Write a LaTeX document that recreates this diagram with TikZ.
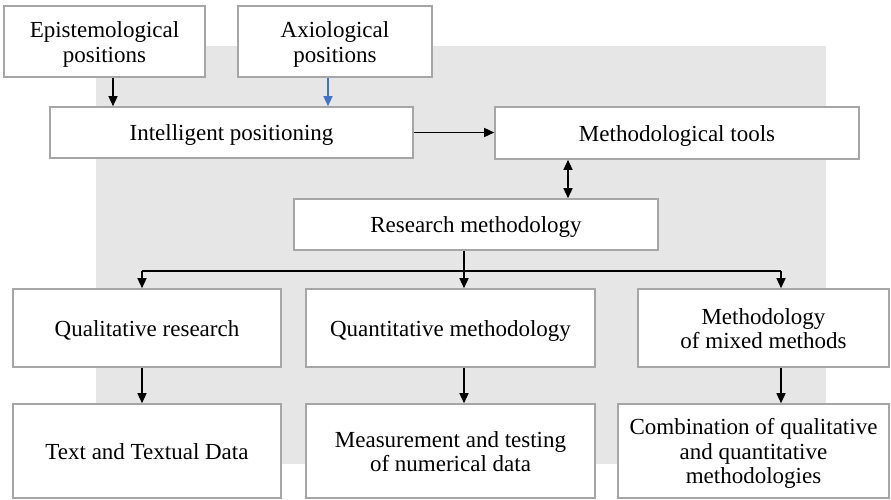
\documentclass[tikz,border=0pt]{standalone}
\usepackage{fontspec}
\setmainfont{Liberation Serif}
\usetikzlibrary{arrows.meta}
\definecolor{bgc}{HTML}{E6E6E6}
\definecolor{boxline}{HTML}{A6A6A6}
\definecolor{bluearr}{HTML}{4472C4}
\newcommand{\tx}[1]{\raisebox{-3.5pt}[\height][\depth]{\begin{tabular}{@{}c@{}}#1\end{tabular}}}
\tikzset{
  box/.style={draw=boxline, line width=1.6pt, fill=white, inner sep=2pt,
    font=\fontsize{23}{24.5}\selectfont},
  arr/.style={line width=1.4pt, -{Triangle[length=10pt,width=9pt]}},
  dblarr/.style={line width=1.4pt, {Triangle[length=10pt,width=9pt]}-{Triangle[length=10pt,width=9pt]}},
  ln/.style={line width=1.4pt}
}
\begin{document}
\begin{tikzpicture}[x=1pt,y=-1pt]
\useasboundingbox (0,0) rectangle (891,499);
\fill[bgc] (96,46) rectangle (826,464);
\node[box, minimum width=201pt, minimum height=71pt] (epi) at (104.5,41.5) {\tx{Epistemological\\positions}};
\node[box, minimum width=194pt, minimum height=71pt] (axio) at (335,41.5) {\tx{Axiological\\positions}};
\node[box, minimum width=363pt, minimum height=51pt] (ip) at (231.5,132.5) {\tx{Intelligent positioning}};
\node[box, minimum width=364pt, minimum height=52pt] (mt) at (677,133) {\tx{Methodological tools}};
\node[box, minimum width=364pt, minimum height=51pt] (rm) at (476,224.5) {\tx{Research methodology}};
\node[box, minimum width=268pt, minimum height=78pt] (qual) at (147,328) {\tx{Qualitative research}};
\node[box, minimum width=289pt, minimum height=78pt] (quant) at (450.5,328) {\tx{Quantitative methodology}};
\node[box, minimum width=251pt, minimum height=78pt] (mixed) at (763.5,328) {\tx{Methodology\\of mixed methods}};
\node[box, minimum width=268pt, minimum height=94pt] (text) at (147,451) {\tx{Text and Textual Data}};
\node[box, minimum width=289pt, minimum height=94pt] (meas) at (450.5,451) {\tx{Measurement and testing\\of numerical data}};
\node[box, minimum width=271pt, minimum height=94pt] (comb) at (753.5,451) {\tx{Combination of qualitative\\and quantitative\\methodologies}};
\coordinate (xe) at (113,0);
\coordinate (xa) at (328,0);
\coordinate (xd) at (568,0);
\coordinate (bl) at (142,271);
\coordinate (bm) at (464,271);
\coordinate (br) at (781,271);
\draw[arr] (epi.south -| xe) -- (ip.north -| xe);
\draw[arr, draw=bluearr, fill=bluearr] (axio.south -| xa) -- (ip.north -| xa);
\draw[arr] (ip.east) -- (mt.west |- ip.east);
\draw[dblarr] (mt.south -| xd) -- (rm.north -| xd);
\draw[arr] (rm.south -| bm) -- (quant.north -| bm);
\draw[ln] (bl) -- (br);
\draw[arr] (bl) -- (qual.north -| bl);
\draw[arr] (br) -- (mixed.north -| br);
\draw[arr] (qual.south -| bl) -- (text.north -| bl);
\draw[arr] (quant.south -| bm) -- (meas.north -| bm);
\draw[arr] (mixed.south -| br) -- (comb.north -| br);
\end{tikzpicture}
\end{document}
